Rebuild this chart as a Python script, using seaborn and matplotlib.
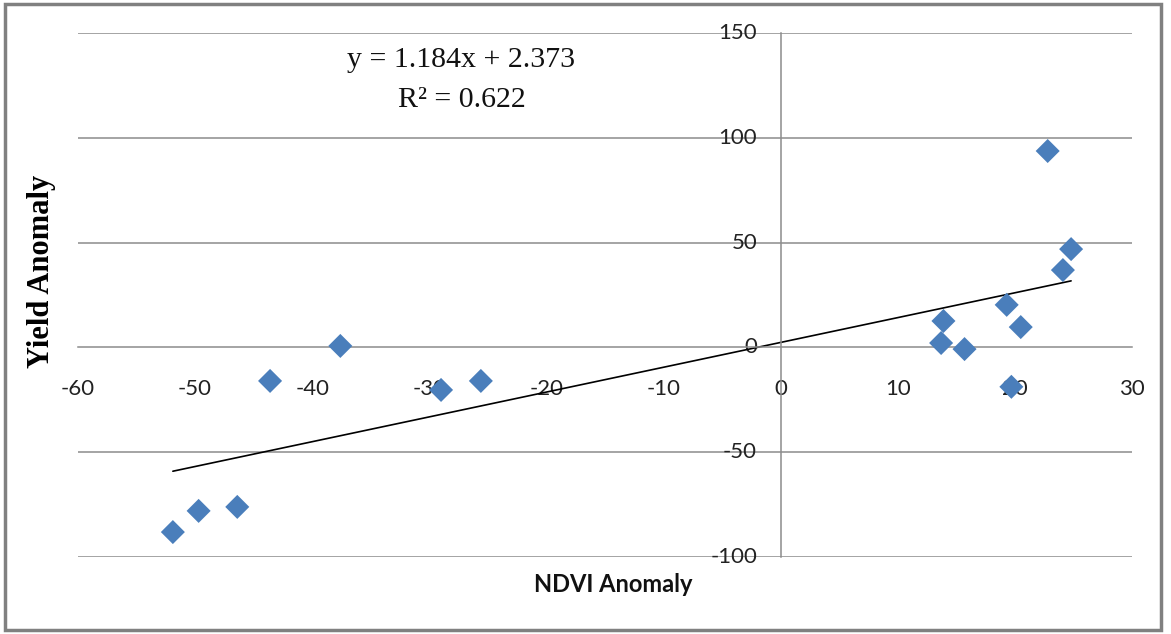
import matplotlib
matplotlib.use("Agg")
import matplotlib.pyplot as plt
import seaborn as sns
import numpy as np
import pandas as pd
from matplotlib.patches import Rectangle

# Data
ndvi_anomaly = [-51.9, -49.7, -46.4, -43.6, -37.6, -29.0, -25.6,
                13.7, 13.9, 15.7, 19.3, 19.7, 20.5, 22.8, 24.1, 24.8]
yield_anomaly = [-88.1, -78.0, -76.1, -16.0, 0.7, -20.3, -16.0,
                 2.1, 12.6, -0.8, 20.3, -18.8, 9.7, 93.7, 36.9, 46.9]
slope = 1.184
intercept = 2.373
r_squared = 0.622
x_ticks = [-60, -50, -40, -30, -20, -10, 0, 10, 20, 30]
y_ticks = [-100, -50, 0, 50, 100, 150]

df = pd.DataFrame({"ndvi": ndvi_anomaly, "yield": yield_anomaly})

sns.set_style("white")
W, H = 1171, 634
fig = plt.figure(figsize=(W / 100, H / 100), dpi=100)
ax = fig.add_axes([78 / W, 1 - 557 / H, (1132 - 78) / W, (557 - 33) / H])

grid_col = "#8c8c8c"
for yv in y_ticks:
    if yv != 0:
        ax.axhline(yv, color=grid_col, lw=1.1, zorder=0)

# trendline
xl = np.array([min(ndvi_anomaly), max(ndvi_anomaly)])
sns.lineplot(x=xl, y=slope * xl + intercept, ax=ax, color="black", lw=1.2, zorder=2)

sns.scatterplot(data=df, x="ndvi", y="yield", ax=ax, marker="D", s=150,
                color="#4a7ebb", edgecolor="none", zorder=3)

ax.set_xlim(-60, 30)
ax.set_ylim(-100, 150)
ax.set_xticks(x_ticks)
ax.set_yticks(y_ticks)
ax.set_xticklabels([str(v) for v in x_ticks])
ax.set_yticklabels([str(v) for v in y_ticks])

for s in ["top", "right"]:
    ax.spines[s].set_visible(False)
ax.spines["left"].set_position(("data", 0))
ax.spines["bottom"].set_position(("data", 0))
ax.spines["left"].set_color(grid_col)
ax.spines["bottom"].set_color(grid_col)
ax.spines["left"].set_linewidth(1.1)
ax.spines["bottom"].set_linewidth(1.1)

ax.tick_params(axis="x", direction="out", length=9, width=1.1, color=grid_col,
               pad=14, labelsize=16, labelcolor="#222222")
ax.tick_params(axis="y", length=0, pad=17, labelsize=16, labelcolor="#222222")
for lab in ax.get_xticklabels() + ax.get_yticklabels():
    lab.set_fontfamily("Lato")
for lab in ax.get_yticklabels():
    lab.set_verticalalignment("center")

ax.set_xlabel("")
ax.set_ylabel("")
ax.set_facecolor("white")

fig.text(613 / W, 1 - 584 / H, "NDVI Anomaly", ha="center", va="center",
         fontsize=17, fontweight="bold", family="Lato", color="#111111")
fig.text(42 / W, 1 - 271 / H, "Yield Anomaly", ha="center", va="center",
         rotation=90, fontsize=22, fontweight="bold", family="Liberation Serif",
         color="black")

fig.text(461 / W, 1 - 60 / H, f"y = {slope}x + {intercept}", ha="center", va="center",
         fontsize=21.5, family="Liberation Serif", color="#111111")
fig.text(462 / W, 1 - 100 / H, f"R² = {r_squared}", ha="center", va="center",
         fontsize=21.5, family="Liberation Serif", color="#111111")

fig.patches.append(Rectangle((5 / W, 4 / H), (1161 - 5) / W, (630 - 4) / H,
                             transform=fig.transFigure, fill=False,
                             edgecolor="#808080", lw=2.5))

fig.savefig("out.png", dpi=100, facecolor="white")
